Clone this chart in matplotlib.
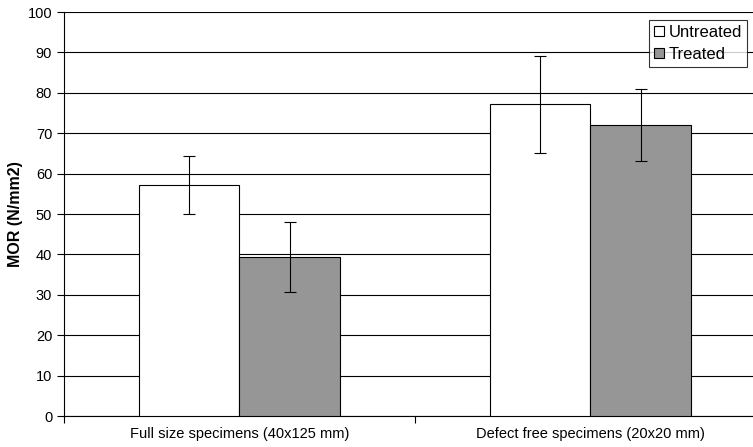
import numpy as np
import matplotlib.pyplot as plt

plt.rcParams['font.family'] = ['Liberation Sans', 'DejaVu Sans']

categories = ["Full size specimens (40x125 mm)", "Defect free specimens (20x20 mm)"]
untreated = [57.3, 77.2]
treated = [39.4, 72.0]
untreated_low = [50.1, 65.1]
untreated_high = [64.4, 89.2]
treated_low = [30.8, 63.1]
treated_high = [48.0, 81.0]


def main():
    fig = plt.figure(figsize=(7.53, 4.47), dpi=100)
    ax = fig.add_axes([64 / 753, 31 / 447, 1 - 64 / 753, 404 / 447])

    x = np.arange(len(categories))
    w = 0.285
    u = np.array(untreated)
    t = np.array(treated)
    u_err = [u - np.array(untreated_low), np.array(untreated_high) - u]
    t_err = [t - np.array(treated_low), np.array(treated_high) - t]

    ax.bar(x - w / 2, u, w, color="white", edgecolor="black", linewidth=0.8,
           label="Untreated", zorder=3)
    ax.bar(x + w / 2, t, w, color="#969696", edgecolor="black", linewidth=0.8,
           label="Treated", zorder=3)
    ax.errorbar(x - w / 2, u, yerr=u_err, fmt="none", ecolor="black",
                elinewidth=0.8, capsize=4, capthick=0.8, zorder=4)
    ax.errorbar(x + w / 2, t, yerr=t_err, fmt="none", ecolor="black",
                elinewidth=0.8, capsize=4, capthick=0.8, zorder=4)

    ax.set_yticks(range(0, 101, 10))
    ax.set_xticks([-0.5, 0.5, 1.5])
    ax.set_xticklabels([])
    ax.set_xticks(x, minor=True)
    ax.set_xticklabels(categories, minor=True)
    ax.set_ylim(0, 100)
    ax.set_xlim(-0.5, 1.463)
    ax.tick_params(axis="x", which="minor", length=0, pad=8, labelsize=10.5)
    ax.tick_params(axis="x", which="major", length=5, direction="out")
    ax.tick_params(axis="y", length=5, labelsize=10.5)
    ax.yaxis.grid(True, color="black", linewidth=0.8, zorder=0)
    ax.set_axisbelow(True)
    for s in ["top", "right"]:
        ax.spines[s].set_visible(False)
    ax.spines["left"].set_linewidth(0.8)
    ax.spines["bottom"].set_linewidth(0.8)

    ax.set_ylabel("MOR (N/mm2)", fontsize=11.5, fontweight="bold", labelpad=3)

    leg = ax.legend(loc="upper right", bbox_to_anchor=(0.991, 0.980), fontsize=12,
                    frameon=True, fancybox=False, edgecolor="black",
                    handlelength=0.6, handleheight=0.6, handletextpad=0.25,
                    borderpad=0.3, labelspacing=0.4, borderaxespad=0)
    leg.get_frame().set_linewidth(0.8)

    fig.savefig("out.png", dpi=100)


if __name__ == "__main__":
    main()
